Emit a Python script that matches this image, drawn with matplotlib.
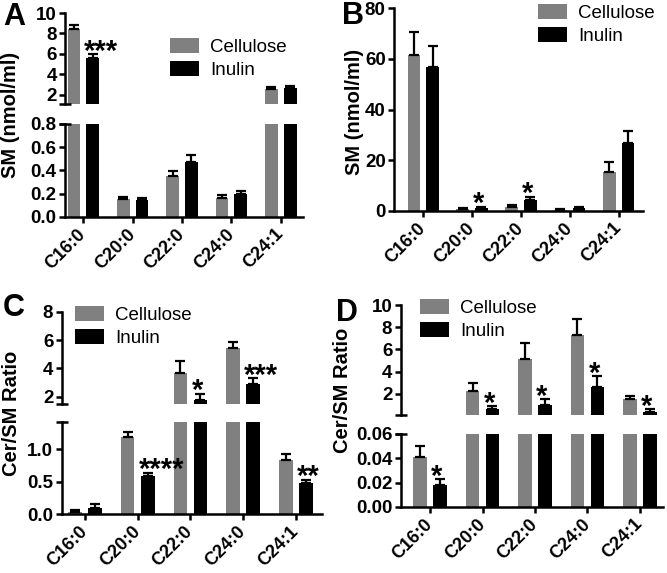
import matplotlib
matplotlib.use("Agg")
import matplotlib.pyplot as plt
import numpy as np
from matplotlib.ticker import FormatStrFormatter

plt.rcParams["font.family"] = ["Liberation Sans", "DejaVu Sans"]

species = ["C16:0", "C20:0", "C22:0", "C24:0", "C24:1"]
groups = ["Cellulose", "Inulin"]

# A - SM (nmol/ml)
a_cel = [8.4, 0.155, 0.35, 0.165, 2.6]
a_cel_err = [0.4, 0.015, 0.045, 0.025, 0.2]
a_inu = [5.6, 0.145, 0.47, 0.20, 2.65]
a_inu_err = [0.4, 0.015, 0.065, 0.02, 0.2]
a_sig = ["***", "", "", "", ""]

# B - SM (nmol/ml)
b_cel = [61.5, 0.7, 1.6, 0.5, 15.3]
b_cel_err = [9.0, 0.3, 0.8, 0.3, 4.2]
b_inu = [57.0, 1.2, 4.2, 1.2, 26.8]
b_inu_err = [8.0, 0.5, 1.5, 0.5, 4.8]
b_sig = ["", "*", "*", "", ""]

# C - Cer/SM ratio
c_cel = [0.04, 1.18, 3.7, 5.45, 0.83]
c_cel_err = [0.02, 0.08, 0.8, 0.4, 0.1]
c_inu = [0.09, 0.59, 1.8, 2.9, 0.48]
c_inu_err = [0.07, 0.05, 0.4, 0.4, 0.05]
c_sig = ["", "****", "*", "***", "**"]

# D - Cer/SM ratio
d_cel = [0.041, 2.3, 5.1, 7.3, 1.5]
d_cel_err = [0.009, 0.7, 1.5, 1.4, 0.35]
d_inu = [0.018, 0.6, 1.0, 2.6, 0.4]
d_inu_err = [0.005, 0.3, 0.5, 1.0, 0.2]
d_sig = ["*", "*", "*", "*", "*"]

GRAY = "#808080"
W, OFF = 0.26, 0.19
FS = 13.5


def style(ax, xlim):
    for s in ("top", "right"):
        ax.spines[s].set_visible(False)
    for s in ("left", "bottom"):
        ax.spines[s].set_linewidth(1.8)
    ax.tick_params(width=1.8, length=4.5, labelsize=FS, pad=1.5)
    ax.set_xlim(*xlim)


def bold_ticks(ax):
    for t in ax.get_xticklabels() + ax.get_yticklabels():
        t.set_fontweight("bold")


def bars(ax, cel, cel_err, inu, inu_err):
    # ylim must be set before this, caps outside the range are skipped
    lo, hi = ax.get_ylim()
    x = np.arange(len(species))
    ax.bar(x - OFF, cel, W, color=GRAY, label=groups[0])
    ax.bar(x + OFF, inu, W, color="black", label=groups[1])
    for xs, v, e in ((x - OFF, cel, cel_err), (x + OFF, inu, inu_err)):
        v, e = np.asarray(v), np.asarray(e)
        keep = (v + e > lo) & (v < hi)
        ax.errorbar(xs[keep], v[keep], yerr=[np.zeros(keep.sum()), e[keep]], fmt="none",
                    ecolor="black", elinewidth=1.6, capsize=3.5, capthick=1.6)


def xlabels(ax):
    ax.set_xticks(np.arange(len(species)))
    ax.set_xticklabels(species, rotation=45, ha="right", va="center",
                       rotation_mode="anchor", fontsize=13)
    ax.tick_params(axis="x", pad=6)


def stars(axes, inu, inu_err, sig):
    for i, s in enumerate(sig):
        if not s:
            continue
        top = inu[i] + inu_err[i]
        ax = axes[0]
        if len(axes) > 1 and top < axes[0].get_ylim()[0]:
            ax = axes[1]
        ax.annotate(s, (i + OFF - W / 2, top), xytext=(-1.5, -4), textcoords="offset points",
                    ha="left", va="baseline", fontsize=21, fontweight="bold")


def brk(ax, y):
    ax.plot([0], [y], marker="_", ms=9, mew=1.8, color="black",
            transform=ax.transAxes, clip_on=False)


def broken(fig, rect_top, rect_bot, xlim, ylim_top, ylim_bot, ticks_top, ticks_bot, fmt_bot, data):
    cel, cel_err, inu, inu_err, sig = data
    top = fig.add_axes(rect_top)
    bot = fig.add_axes(rect_bot)
    top.set_ylim(*ylim_top)
    bot.set_ylim(*ylim_bot)
    for ax in (top, bot):
        bars(ax, cel, cel_err, inu, inu_err)
        style(ax, xlim)
    top.set_ylim(*ylim_top)
    bot.set_ylim(*ylim_bot)
    top.set_yticks(ticks_top)
    bot.set_yticks(ticks_bot)
    bot.yaxis.set_major_formatter(FormatStrFormatter(fmt_bot))
    top.spines["bottom"].set_visible(False)
    top.set_xticks([])
    brk(top, 0)
    brk(bot, 1)
    xlabels(bot)
    bold_ticks(top)
    bold_ticks(bot)
    stars([top, bot], inu, inu_err, sig)
    return top, bot


def legend(ax, fig, x, y):
    ax.legend(loc="upper left", bbox_to_anchor=(x, y), bbox_transform=fig.transFigure,
              frameon=False, prop={"size": 13.5}, handlelength=1.55,
              handleheight=0.85, handletextpad=0.6, labelspacing=0.25,
              borderpad=0, borderaxespad=0)


fig = plt.figure(figsize=(6.67, 5.73), dpi=100)

# panel A
a_top, a_bot = broken(fig, [0.0975, 0.8185, 0.3568, 0.1588], [0.0975, 0.6213, 0.3568, 0.1623],
                      (-0.37, 4.45), (1.1, 10), (0, 0.8), [2, 4, 6, 8, 10],
                      [0, 0.2, 0.4, 0.6, 0.8], "%.1f", (a_cel, a_cel_err, a_inu, a_inu_err, a_sig))
legend(a_top, fig, 170 / 667, 1 - 38 / 573)

# panel B
b_ax = fig.add_axes([0.5907, 0.6318, 0.3733, 0.3538])
b_ax.set_ylim(0, 80)
bars(b_ax, b_cel, b_cel_err, b_inu, b_inu_err)
style(b_ax, (-0.6, 4.5))
b_ax.set_ylim(0, 80)
b_ax.set_yticks([0, 20, 40, 60, 80])
xlabels(b_ax)
bold_ticks(b_ax)
stars([b_ax], b_inu, b_inu_err, b_sig)
legend(b_ax, fig, 538 / 667, 1 - 4 / 573)

# panel C
c_top, c_bot = broken(fig, [0.0925, 0.2953, 0.3898, 0.1607], [0.0925, 0.1024, 0.3898, 0.1616],
                      (-0.44, 4.49), (1.5, 8), (0, 1.42), [2, 4, 6, 8],
                      [0, 0.5, 1.0], "%.1f", (c_cel, c_cel_err, c_inu, c_inu_err, c_sig))
legend(c_top, fig, 75 / 667, 1 - 306 / 573)

# panel D
d_top, d_bot = broken(fig, [0.6007, 0.2757, 0.3933, 0.192], [0.6007, 0.1152, 0.3933, 0.1274],
                      (-0.56, 4.44), (0.1, 10), (0, 0.06), [2, 4, 6, 8, 10],
                      [0, 0.02, 0.04, 0.06], "%.2f", (d_cel, d_cel_err, d_inu, d_inu_err, d_sig))
legend(d_top, fig, 420 / 667, 1 - 299 / 573)

# axis titles
ykw = dict(rotation=90, ha="center", va="center", fontsize=14.5, fontweight="bold")
fig.text(11 / 667, 1 - 115 / 573, "SM (nmol/ml)", **ykw)
fig.text(355 / 667, 1 - 112 / 573, "SM (nmol/ml)", **ykw)
fig.text(12 / 667, 1 - 413 / 573, "Cer/SM Ratio", **ykw)
fig.text(343 / 667, 1 - 390 / 573, "Cer/SM Ratio", **ykw)

# panel letters
for letter, x, y in (("A", 3, 2), ("B", 342, 1), ("C", 3, 293), ("D", 336, 298)):
    fig.text(x / 667, 1 - y / 573, letter, ha="left", va="top", fontsize=22, fontweight="bold")

fig.savefig("out.png", dpi=100)
